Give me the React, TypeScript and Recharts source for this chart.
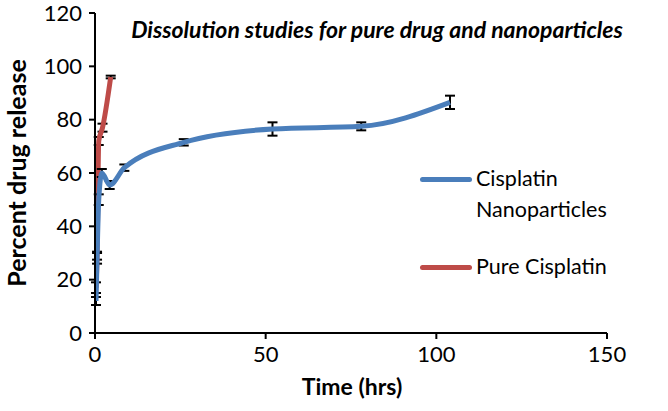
import React from "react";
import { LineChart, Line, XAxis, YAxis, ErrorBar } from "recharts";

const nanoTime = [0.3, 0.6, 1.1, 2, 4.3, 8.6, 26, 52, 78, 104];
const nanoRelease = [12, 28, 50, 60, 55.5, 62, 71.5, 76.5, 77.5, 86.5];
const nanoError = [1.5, 2, 2, 1.5, 1.5, 1.2, 1.2, 2.5, 1.5, 2.5];

const pureTime = [0.3, 0.6, 1.1, 2.2, 4.6];
const pureRelease = [17, 29, 72, 77, 96];
const pureError = [2, 1.5, 1.5, 1.5, 0.5];

const xTicks = [0, 50, 100, 150];
const yTicks = [0, 20, 40, 60, 80, 100, 120];

const seriesNames = ["Cisplatin Nanoparticles", "Pure Cisplatin"];
const colors = ["#4A7EBB", "#BE4B48"];
const title = "Dissolution studies for pure drug and nanoparticles";

const nanoData = nanoTime.map((t, i) => ({ t, v: nanoRelease[i], e: nanoError[i] }));
const pureData = pureTime.map((t, i) => ({ t, v: pureRelease[i], e: pureError[i] }));

const FONT = "Lato, 'Open Sans', sans-serif";

const CustomLegend = () => (
  <div style={{ position: "absolute", left: 420, top: 163, fontFamily: FONT, fontSize: 21.5, color: "#000" }}>
    <div style={{ display: "flex", alignItems: "flex-start", marginBottom: 26 }}>
      <div style={{ width: 52, height: 5, borderRadius: 3, background: colors[0], marginTop: 14, marginRight: 4 }} />
      <div style={{ lineHeight: "31px", width: 170 }}>
        Cisplatin<br />Nanoparticles
      </div>
    </div>
    <div style={{ display: "flex", alignItems: "flex-start" }}>
      <div style={{ width: 52, height: 5, borderRadius: 3, background: colors[1], marginTop: 14, marginRight: 4 }} />
      <div style={{ lineHeight: "31px" }}>{seriesNames[1]}</div>
    </div>
  </div>
);

export default function App() {
  return (
    <div style={{ position: "absolute", left: 0, top: 0, width: 668, height: 411, background: "#fff" }}>
      <LineChart
        width={668}
        height={411}
        margin={{ top: 13, right: 61, bottom: 48, left: 0 }}
        style={{ fontFamily: FONT }}
      >
        <XAxis
          type="number"
          dataKey="t"
          domain={[0, 150]}
          ticks={xTicks}
          allowDataOverflow
          height={30}
          stroke="#000"
          strokeWidth={2}
          tickSize={6}
          tickMargin={7}
          tick={{ fill: "#000", fontSize: 22, fontFamily: FONT }}
        />
        <YAxis
          type="number"
          domain={[0, 120]}
          ticks={yTicks}
          width={95}
          stroke="#000"
          strokeWidth={2}
          tickSize={6}
          tickMargin={7}
          tick={{ fill: "#000", fontSize: 22, fontFamily: FONT }}
        />
        <Line
          data={pureData}
          dataKey="v"
          name={seriesNames[1]}
          type="monotone"
          stroke={colors[1]}
          strokeWidth={5}
          dot={false}
          isAnimationActive={false}
        >
          <ErrorBar dataKey="e" width={5} stroke="#000" strokeWidth={2} direction="y" />
        </Line>
        <Line
          data={nanoData}
          dataKey="v"
          name={seriesNames[0]}
          type="monotone"
          stroke={colors[0]}
          strokeWidth={5}
          dot={false}
          isAnimationActive={false}
        >
          <ErrorBar dataKey="e" width={5} stroke="#000" strokeWidth={2} direction="y" />
        </Line>
        <text x={377} y={38} textAnchor="middle" fontFamily={FONT} fontSize={23} fontWeight={700} fontStyle="italic" fill="#000">
          {title}
        </text>
        <text x={352} y={395} textAnchor="middle" fontFamily={FONT} fontSize={23} fontWeight={700} fill="#000">
          Time (hrs)
        </text>
        <text x={0} y={0} transform="translate(26,173) rotate(-90)" textAnchor="middle" fontFamily={FONT} fontSize={25} fontWeight={700} fill="#000">
          Percent drug release
        </text>
      </LineChart>
      <CustomLegend />
    </div>
  );
}
